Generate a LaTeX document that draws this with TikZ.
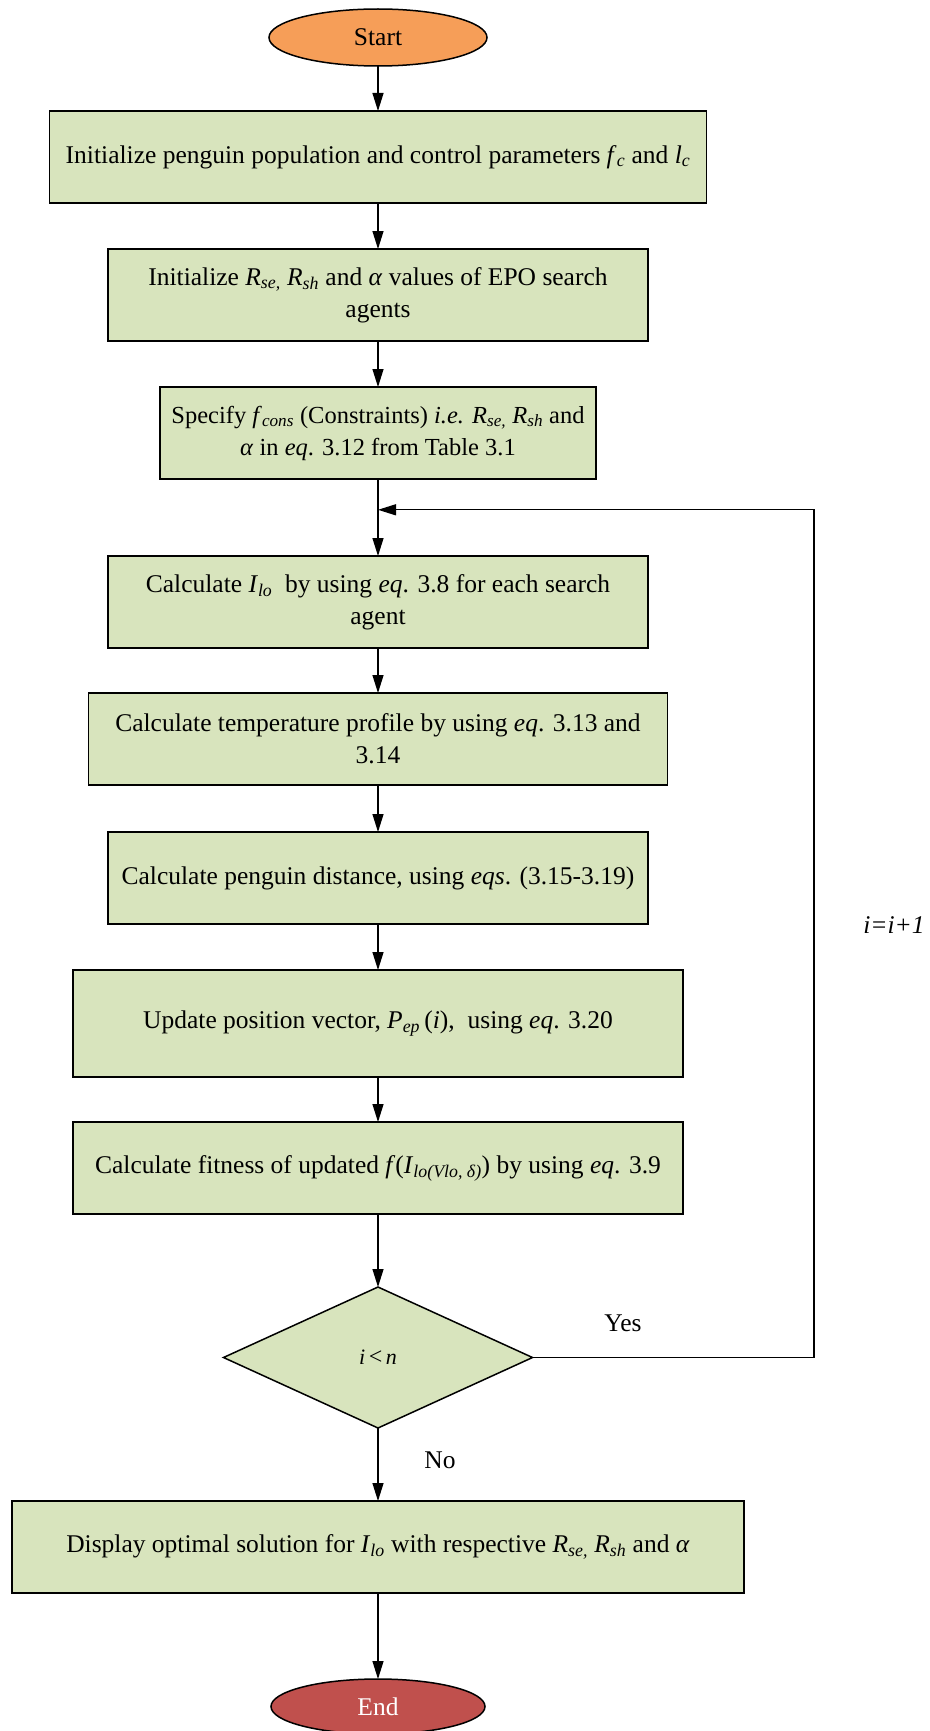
\documentclass[tikz,border=0pt]{standalone}
\usepackage{fontspec}
\setmainfont{Liberation Serif}
\usetikzlibrary{shapes.geometric, arrows.meta, positioning, calc}

\definecolor{boxgreen}{RGB}{216,228,189}
\definecolor{startorange}{RGB}{246,158,88}
\definecolor{endred}{RGB}{192,80,77}
\newcommand{\isub}[2]{\textit{#1}\textsubscript{\textit{#2}}}

\begin{document}
\begin{tikzpicture}[
      x=1pt, y=1pt,
      node distance=46pt,
      every node/.style={font=\fontsize{25.5}{32}\selectfont, outer sep=0pt},
      startstop/.style={ellipse, draw, line width=1.5pt, minimum width=218pt, minimum height=57pt, inner sep=0pt},
      process/.style={rectangle, draw, line width=1.5pt, minimum height=92pt, align=center, fill=boxgreen, inner sep=2pt},
      decision/.style={diamond, draw, line width=1.5pt, minimum width=309pt, minimum height=141pt, inner sep=0pt, fill=boxgreen},
      arrow/.style={-{Triangle[length=18pt, width=11pt]}, line width=1.3pt}
    ]
    \useasboundingbox (0,0) rectangle (929,-1731);

    \node[startstop, fill=startorange] (start) at (378,-37.5) {Start};
    \node[process, minimum width=657pt, below=45pt of start] (init) {Initialize penguin population and control parameters \isub{f}{c} and \isub{l}{c}};
    \node[process, minimum width=540pt, below=46pt of init] (agents) {Initialize \isub{R}{se,} \isub{R}{sh} and \textit{α} values of EPO search\\agents};
    \node[process, minimum width=436pt, below=46pt of agents, font=\fontsize{24.5}{32}\selectfont] (cons) {Specify \isub{f}{cons} (Constraints) \textit{i.e.} \isub{R}{se,} \isub{R}{sh} and\\\textit{α} in \textit{eq}. 3.12 from Table 3.1};
    \node[process, minimum width=540pt, below=77pt of cons] (current) {Calculate \isub{I}{lo}\ \ by using \textit{eq}. 3.8 for each search\\agent};
    \node[process, minimum width=579pt, below=45pt of current] (temp) {Calculate temperature profile by using \textit{eq}. 3.13 and\\3.14};
    \node[process, minimum width=540pt, below=47pt of temp] (dist) {Calculate penguin distance, using \textit{eqs}. (3.15-3.19)};
    \node[process, minimum width=610pt, minimum height=107pt, below=46pt of dist] (update) {Update position vector, \isub{P}{ep}\,(\textit{i}),\ \ using \textit{eq}. 3.20};
    \node[process, minimum width=610pt, below=45pt of update] (fitness) {Calculate fitness of updated \textit{f}(\isub{I}{lo(Vlo, δ)}) by using \textit{eq}. 3.9};
    \node[decision, below=73pt of fitness, font=\fontsize{22}{26}\selectfont] (check) {\textit{i}\,{\fontsize{24}{26}\selectfont<}\,\textit{n}};
    \node[process, minimum width=732pt, below=73pt of check] (display) {Display optimal solution for \isub{I}{lo} with respective \isub{R}{se,} \isub{R}{sh} and \textit{α}};
    \node[startstop, fill=endred, text=white, minimum width=214pt, minimum height=55pt, below=86pt of display] (end) {End};

    \coordinate (join) at ($(cons.south)!0.4!(current.north)$);
    \coordinate (loopx) at (814,0);

    \draw[arrow] (start) -- (init);
    \draw[arrow] (init) -- (agents);
    \draw[arrow] (agents) -- (cons);
    \draw[arrow] (cons) -- (current);
    \draw[arrow] (current) -- (temp);
    \draw[arrow] (temp) -- (dist);
    \draw[arrow] (dist) -- (update);
    \draw[arrow] (update) -- (fitness);
    \draw[arrow] (fitness) -- (check);
    \draw[arrow] (check) -- (display);
    \draw[arrow] (display) -- (end);
    \draw[arrow] (check.east) -- (check.east -| loopx) |- (join);

    \node (yes) at (623,-1323) {Yes};
    \node (no) at (440,-1460) {No};
    \node (incr) at (894,-925) {\textit{i=i+1}};
  \end{tikzpicture}
\end{document}
